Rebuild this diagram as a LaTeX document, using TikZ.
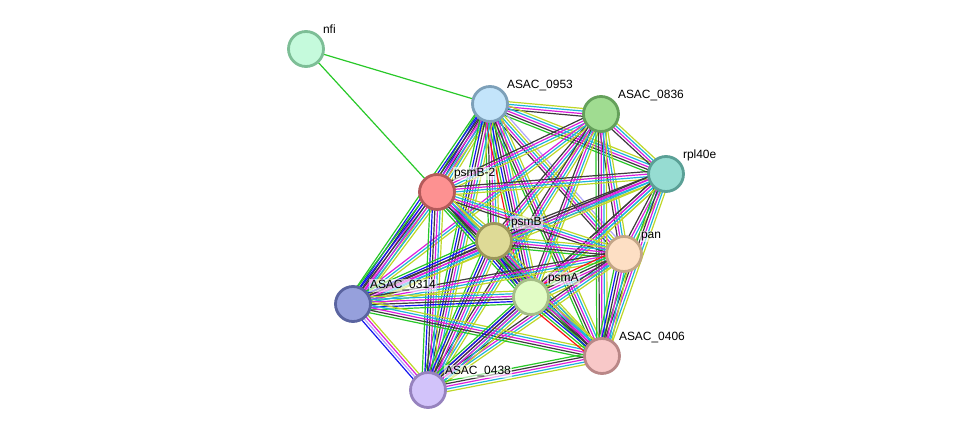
\documentclass[tikz,border=0pt]{standalone}
\usepackage{fontspec}
\setmainfont{Liberation Sans}
\usetikzlibrary{calc}
\usetikzlibrary{backgrounds}

% evidence channels
\definecolor{chR}{RGB}{250,20,20}
\definecolor{chG}{RGB}{40,200,40}
\definecolor{chB}{RGB}{20,20,240}
\definecolor{chK}{RGB}{60,60,60}
\definecolor{chM}{RGB}{220,30,220}
\definecolor{chC}{RGB}{30,180,220}
\definecolor{chY}{RGB}{190,215,40}
\definecolor{chL}{RGB}{175,165,250}

% proteins: fill / ring
\definecolor{nfiF}{RGB}{197,250,220}   \definecolor{nfiD}{RGB}{125,190,150}
\definecolor{aNFF}{RGB}{195,228,250}   \definecolor{aNFD}{RGB}{125,160,185}
\definecolor{aETF}{RGB}{160,220,145}   \definecolor{aETD}{RGB}{100,160,90}
\definecolor{rplF}{RGB}{150,220,210}   \definecolor{rplD}{RGB}{90,160,150}
\definecolor{pBTF}{RGB}{253,145,145}   \definecolor{pBTD}{RGB}{180,90,90}
\definecolor{pBF}{RGB}{222,218,150}    \definecolor{pBD}{RGB}{155,150,90}
\definecolor{panF}{RGB}{253,223,196}   \definecolor{panD}{RGB}{195,165,135}
\definecolor{aTFF}{RGB}{150,160,220}   \definecolor{aTFD}{RGB}{90,100,160}
\definecolor{pAF}{RGB}{225,252,197}    \definecolor{pAD}{RGB}{165,190,135}
\definecolor{aFSF}{RGB}{248,200,200}   \definecolor{aFSD}{RGB}{185,135,135}
\definecolor{aFEF}{RGB}{210,195,250}   \definecolor{aFED}{RGB}{150,130,190}

\newcommand\strlink[3]{%
  \foreach \col [count=\n] in {#3} {\xdef\nlines{\n}}%
  \foreach \col [count=\i] in {#3} {%
    \pgfmathsetmacro\off{(\i-(\nlines+1)/2)*2.6}%
    \draw[link, color=\col] ($(#1)!\off bp!90:(#2)$) -- ($(#2)!\off bp!-90:(#1)$);
  }}

\begin{document}
\begin{tikzpicture}[x=1bp, y=-1bp,
    prot/.style 2 args={circle, minimum size=35bp, inner sep=0pt, line width=2.8bp, fill=#1, draw=#2},
    lbl/.style={anchor=base west, label distance=3.5bp, inner sep=1bp, fill=white, fill opacity=.6, text opacity=1, font=\fontsize{12}{14}\selectfont},
    link/.style={line width=1.2bp}]
  \useasboundingbox (0,0) rectangle (976,436);
  \node[prot={nfiF}{nfiD}, label={[lbl]45:nfi}] (nfi) at (306,49) {};
  \node[prot={aNFF}{aNFD}, label={[lbl]45:ASAC\_0953}] (a953) at (490,104) {};
  \node[prot={aETF}{aETD}, label={[lbl]45:ASAC\_0836}] (a836) at (601,114) {};
  \node[prot={rplF}{rplD}, label={[lbl]45:rpl40e}] (rpl) at (666,174) {};
  \node[prot={pBTF}{pBTD}, label={[lbl]45:psmB-2}] (psmB2) at (437,192) {};
  \node[prot={pBF}{pBD}, label={[lbl]45:psmB}] (psmB) at (494,241) {};
  \node[prot={panF}{panD}, label={[lbl]45:pan}] (pan) at (624,254) {};
  \node[prot={aTFF}{aTFD}, label={[lbl]45:ASAC\_0314}] (a314) at (353,304) {};
  \node[prot={pAF}{pAD}, label={[lbl]45:psmA}] (psmA) at (531,297) {};
  \node[prot={aFSF}{aFSD}, label={[lbl]45:ASAC\_0406}] (a406) at (602,356) {};
  \node[prot={aFEF}{aFED}, label={[lbl]45:ASAC\_0438}] (a438) at (428,390) {};
  \begin{scope}[on background layer]
    \strlink{nfi}{a953}{chG}
    \strlink{nfi}{psmB2}{chG}
    \strlink{a953}{a836}{chK,chM,chC,chY}
    \strlink{a953}{rpl}{chG,chK,chM,chC,chY}
    \strlink{a953}{psmB2}{chG,chB,chK,chM,chC,chY}
    \strlink{a953}{psmB}{chG,chK,chM,chC,chY}
    \strlink{a953}{pan}{chK,chM,chC,chY,chL}
    \strlink{a953}{a314}{chG,chB,chK,chM,chC,chY}
    \strlink{a953}{psmA}{chR,chG,chB,chK,chM,chC,chY}
    \strlink{a953}{a406}{chG,chK,chM,chC,chY}
    \strlink{a953}{a438}{chG,chB,chK,chM,chC,chY}
    \strlink{a836}{rpl}{chK,chM,chC,chY}
    \strlink{a836}{psmB2}{chK,chM,chC,chY}
    \strlink{a836}{psmB}{chK,chM,chC,chY}
    \strlink{a836}{pan}{chK,chM,chC,chY}
    \strlink{a836}{a314}{chM,chC,chY}
    \strlink{a836}{psmA}{chK,chM,chC,chY}
    \strlink{a836}{a406}{chG,chK,chM,chC,chY}
    \strlink{a836}{a438}{chK,chM,chC,chY}
    \strlink{rpl}{psmB2}{chK,chM,chC,chY}
    \strlink{rpl}{psmB}{chK,chM,chC,chY}
    \strlink{rpl}{pan}{chK,chM,chC,chY}
    \strlink{rpl}{a314}{chK,chM,chC,chY}
    \strlink{rpl}{psmA}{chK,chM,chC,chY}
    \strlink{rpl}{a406}{chG,chK,chM,chC,chY}
    \strlink{rpl}{a438}{chK,chM,chC,chY}
    \strlink{psmB2}{psmB}{chG,chB,chK,chM,chC,chY}
    \strlink{psmB2}{pan}{chK,chM,chC,chY}
    \strlink{psmB2}{a314}{chG,chB,chK,chM,chC,chY}
    \strlink{psmB2}{psmA}{chG,chB,chK,chM,chC,chY}
    \strlink{psmB2}{a406}{chG,chK,chM,chC,chY}
    \strlink{psmB2}{a438}{chG,chB,chK,chM,chC,chY}
    \strlink{psmB}{pan}{chG,chK,chM,chC,chY}
    \strlink{psmB}{a314}{chG,chB,chK,chM,chC,chY}
    \strlink{psmB}{psmA}{chG,chB,chK,chM,chC,chY}
    \strlink{psmB}{a406}{chG,chK,chM,chC,chY}
    \strlink{psmB}{a438}{chG,chB,chK,chM,chC,chY}
    \strlink{pan}{a314}{chK,chM,chC,chY}
    \strlink{pan}{psmA}{chR,chG,chK,chM,chC,chY}
    \strlink{pan}{a406}{chG,chB,chK,chM,chC,chY}
    \strlink{pan}{a438}{chK,chM,chC,chY}
    \strlink{a314}{psmA}{chG,chB,chK,chM,chC,chY}
    \strlink{a314}{a406}{chG,chK,chM,chC,chY}
    \strlink{a314}{a438}{chB,chL,chM,chY}
    \strlink{psmA}{a406}{chR,chG,chB,chK,chM,chC,chY}
    \strlink{psmA}{a438}{chG,chB,chK,chM,chC,chY}
    \strlink{a406}{a438}{chG,chK,chM,chC,chY}
  \end{scope}
\end{tikzpicture}
\end{document}
